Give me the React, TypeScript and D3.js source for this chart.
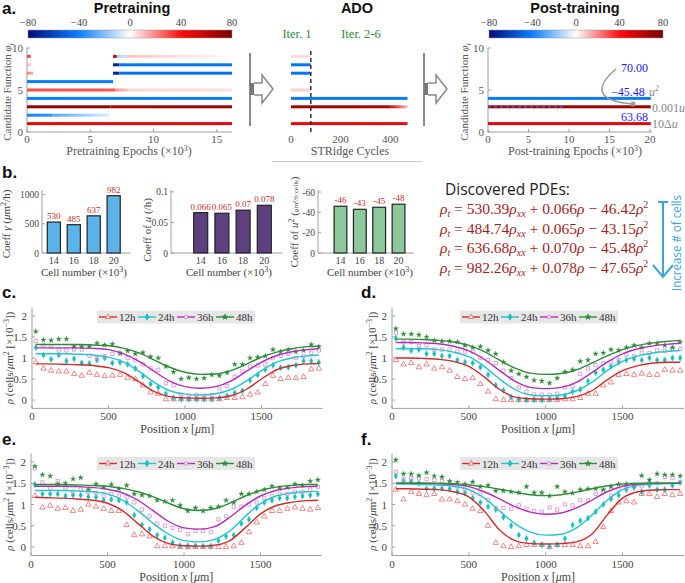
import React from "react";
import * as d3 from "d3";

const W = 685;
const H = 583;
const SERIF = "'Liberation Serif', 'DejaVu Serif', serif";
const SANS = "'Open Sans', 'Liberation Sans', sans-serif";
const ARIAL = "'Liberation Sans', Arial, sans-serif";

// ---------- panel a data ----------
const cbTicks = [-80, -40, 0, 40, 80];
const cbStops = [-80, -40, 0, 40, 80];
const cbColors = ["#000a7a", "#0a80ff", "#ffffff", "#ff0d0d", "#7a0000"];

// [row, x0, x1, valueStart, valueEnd]
const preSegments = [
  [1, 0, 16.2, 48, 50],
  [2, 0, 2, -38, -34], [2, 2, 6.5, -28, -6],
  [3, 0, 6.6, 72, 72], [3, 6.6, 16.2, 66, 70],
  [4, 0, 16.2, -40, -42],
  [5, 0, 7, 30, 28], [5, 7, 8, 18, 10], [5, 8, 16.2, 7, 5],
  [6, 0, 6.8, -40, -40],
  [7, 0, 0.5, 22, 12], [7, 6.8, 7.3, -72, -72], [7, 7.3, 16.2, -44, -44],
  [8, 0, 0.3, 14, 10], [8, 6.8, 7.3, -72, -72], [8, 7.3, 16.2, -44, -44],
  [9, 0, 0.3, 30, 30], [9, 6.8, 7.1, 60, 55], [9, 7.1, 7.8, -15, -8], [9, 7.8, 15, 10, 2],
];
const adoSegments = [
  [9, 0, 80, 6, 6],
  [8, 0, 80, -44, -44],
  [7, 0, 80, -44, -44],
  [5, 0, 80, 8, 8],
  [4, 0, 470, -42, -42],
  [3, 0, 400, 70, 66], [3, 400, 470, 55, 12],
  [1, 0, 470, 48, 46],
];
const adoDash = 80;
const postSegments = [
  [4, 0, 20.1, -42, -42],
  [3, 0, 20.1, 70, 70],
  [1, 0, 20.1, 50, 50],
];
const postDashed = [3, 0, 9.6];
const preXTicks = [0, 5, 10, 15];
const adoXTicks = [0, 200, 400];
const postXTicks = [0, 5, 10, 15, 20];
const rowTicks = [0, 5, 10];

// ---------- panel b data ----------
const cellNumbers = ["14", "16", "18", "20"];
const gammaCoeffs = [530, 485, 637, 982];
const gammaLabels = ["530", "485", "637", "982"];
const uCoeffs = [0.066, 0.065, 0.07, 0.078];
const uLabels = ["0.066", "0.065", "0.07", "0.078"];
const u2Coeffs = [-46, -43, -45, -48];
const u2Labels = ["-46", "-43", "-45", "-48"];
const gammaTicks = [0, 500, 1000];
const uTicks = [0, 0.05, 0.1];
const u2Ticks = [0, -20, -40, -60];

const pdeGamma = ["530.39", "484.74", "636.68", "982.26"];
const pdeU = ["0.066", "0.065", "0.070", "0.078"];
const pdeU2 = ["46.42", "43.15", "45.48", "47.65"];

// ---------- panels c-f data ----------
const positions = [25, 75, 125, 175, 225, 275, 325, 375, 425, 475, 525, 575, 625, 675, 725, 775, 825, 875, 925, 975, 1025, 1075, 1125, 1175, 1225, 1275, 1325, 1375, 1425, 1475, 1525, 1575, 1625, 1675, 1725, 1775, 1825, 1875];
const curveX = [25, 100, 200, 300, 400, 500, 600, 700, 800, 900, 1000, 1100, 1200, 1300, 1400, 1500, 1600, 1700, 1800, 1875];
const posTicks = [0, 500, 1000, 1500];
const rhoTicks = [0, 0.5, 1, 1.5, 2];
const hours = ["12h", "24h", "36h", "48h"];

const c12 = [0.9, 0.75, 0.7, 0.68, 0.68, 0.62, 0.58, 0.65, 0.6, 0.57, 0.58, 0.6, 0.53, 0.5, 0.35, 0.18, 0.15, 0.02, 0.02, 0.02, 0.02, 0.02, 0.02, 0.02, 0.02, 0.05, 0.05, 0.07, 0.13, 0.18, 0.38, 0.58, 0.5, 0.53, 0.52, 0.55, 0.73, 0.75];
const c24 = [1.25, 1.07, 0.97, 1.07, 0.93, 0.98, 0.88, 0.87, 0.95, 1.0, 0.88, 0.9, 0.85, 0.75, 0.57, 0.38, 0.3, 0.15, 0.05, 0.02, 0.02, 0.02, 0.02, 0.02, 0.05, 0.1, 0.17, 0.22, 0.47, 0.6, 0.72, 0.83, 0.77, 0.78, 0.83, 0.93, 0.93, 0.9];
const c36 = [1.4, 1.3, 1.27, 1.18, 1.18, 1.2, 1.2, 1.05, 1.0, 1.05, 1.1, 1.1, 1.0, 0.95, 0.85, 0.75, 0.72, 0.4, 0.35, 0.13, 0.1, 0.12, 0.1, 0.12, 0.27, 0.33, 0.55, 0.68, 0.8, 0.82, 0.85, 1.0, 1.05, 1.1, 1.0, 1.05, 1.12, 1.18];
const c48 = [1.63, 1.43, 1.42, 1.45, 1.45, 1.27, 1.27, 1.27, 1.35, 1.31, 1.33, 1.12, 1.17, 1.1, 1.13, 1.03, 1.0, 0.8, 0.67, 0.5, 0.53, 0.5, 0.52, 0.6, 0.58, 0.65, 0.85, 0.85, 1.0, 1.02, 1.05, 1.2, 1.15, 1.2, 1.15, 1.18, 1.32, 1.27];
const cFit12 = [0.86, 0.86, 0.85, 0.84, 0.82, 0.77, 0.65, 0.43, 0.2, 0.08, 0.05, 0.04, 0.05, 0.1, 0.25, 0.5, 0.72, 0.82, 0.86, 0.87];
const cFit24 = [1.1, 1.1, 1.1, 1.09, 1.07, 1.02, 0.9, 0.68, 0.42, 0.22, 0.14, 0.12, 0.15, 0.25, 0.45, 0.7, 0.9, 1.0, 1.05, 1.07];
const cFit36 = [1.24, 1.24, 1.24, 1.24, 1.23, 1.2, 1.1, 0.92, 0.68, 0.45, 0.32, 0.28, 0.32, 0.45, 0.68, 0.9, 1.06, 1.15, 1.2, 1.22];
const cFit48 = [1.32, 1.32, 1.32, 1.32, 1.31, 1.29, 1.23, 1.12, 0.95, 0.78, 0.66, 0.61, 0.62, 0.7, 0.85, 1.02, 1.14, 1.22, 1.27, 1.28];

const d12 = [0.95, 0.85, 0.88, 0.78, 0.85, 0.75, 0.78, 0.7, 0.55, 0.5, 0.52, 0.38, 0.2, 0.02, 0.0, 0.0, 0.0, 0.0, 0.0, 0.0, 0.0, 0.0, 0.02, 0.02, 0.05, 0.15, 0.15, 0.35, 0.42, 0.6, 0.62, 0.6, 0.63, 0.6, 0.6, 0.72, 0.7, 0.7];
const d24 = [1.47, 1.25, 1.18, 1.2, 1.1, 1.1, 1.05, 1.05, 0.95, 0.9, 0.88, 0.78, 0.6, 0.35, 0.23, 0.07, 0.02, 0.0, 0.0, 0.0, 0.02, 0.05, 0.1, 0.2, 0.25, 0.45, 0.65, 0.72, 0.8, 0.9, 0.95, 0.98, 0.95, 1.0, 0.95, 0.95, 1.0, 1.0];
const d36 = [1.6, 1.37, 1.38, 1.28, 1.3, 1.2, 1.2, 1.2, 1.15, 1.15, 1.15, 1.0, 0.95, 0.88, 0.7, 0.52, 0.3, 0.2, 0.13, 0.13, 0.12, 0.15, 0.3, 0.33, 0.62, 0.75, 0.83, 0.88, 0.9, 0.95, 1.08, 1.05, 1.12, 1.12, 1.18, 1.17, 1.22, 1.22];
const d48 = [1.7, 1.57, 1.57, 1.55, 1.5, 1.42, 1.4, 1.4, 1.38, 1.3, 1.25, 1.27, 1.18, 1.1, 0.9, 0.7, 0.62, 0.55, 0.47, 0.45, 0.4, 0.52, 0.67, 0.72, 0.92, 0.95, 1.1, 1.12, 1.2, 1.18, 1.25, 1.3, 1.25, 1.35, 1.35, 1.3, 1.25, 1.38];
const dFit12 = [1.0, 1.0, 0.99, 0.97, 0.92, 0.8, 0.55, 0.25, 0.07, 0.03, 0.02, 0.03, 0.08, 0.22, 0.48, 0.7, 0.82, 0.88, 0.9, 0.9];
const dFit24 = [1.22, 1.22, 1.22, 1.2, 1.14, 1.03, 0.8, 0.5, 0.25, 0.12, 0.1, 0.12, 0.22, 0.42, 0.7, 0.92, 1.05, 1.12, 1.16, 1.18];
const dFit36 = [1.37, 1.37, 1.36, 1.34, 1.28, 1.17, 0.97, 0.7, 0.45, 0.3, 0.27, 0.3, 0.42, 0.65, 0.9, 1.1, 1.22, 1.29, 1.33, 1.35];
const dFit48 = [1.45, 1.45, 1.44, 1.42, 1.38, 1.3, 1.15, 0.95, 0.76, 0.64, 0.61, 0.63, 0.72, 0.88, 1.05, 1.2, 1.3, 1.36, 1.4, 1.42];

const e12 = [1.2, 0.93, 0.97, 0.9, 0.92, 0.85, 0.88, 1.0, 0.95, 0.9, 0.85, 0.85, 0.52, 0.28, 0.3, 0.25, 0.02, 0.02, 0.02, 0.0, 0.0, 0.0, 0.0, 0.0, 0.0, 0.0, 0.02, 0.1, 0.35, 0.58, 0.72, 0.85, 0.85, 0.9, 0.93, 0.9, 0.88, 0.92];
const e24 = [1.47, 1.25, 1.25, 1.25, 1.2, 1.22, 1.22, 1.18, 1.17, 1.1, 1.12, 1.1, 1.05, 0.75, 0.52, 0.42, 0.28, 0.22, 0.1, 0.03, 0.03, 0.03, 0.02, 0.02, 0.15, 0.25, 0.28, 0.55, 0.65, 0.92, 1.05, 1.1, 1.15, 1.15, 1.18, 1.2, 1.22, 1.25];
const e36 = [1.85, 1.52, 1.38, 1.55, 1.4, 1.3, 1.35, 1.3, 1.27, 1.2, 1.25, 1.2, 1.17, 1.05, 0.88, 0.72, 0.55, 0.5, 0.45, 0.4, 0.3, 0.38, 0.38, 0.35, 0.65, 0.72, 0.95, 0.95, 1.0, 1.05, 1.15, 1.2, 1.25, 1.25, 1.3, 1.3, 1.35, 1.42];
const e48 = [1.9, 1.7, 1.67, 1.48, 1.5, 1.6, 1.63, 1.35, 1.48, 1.4, 1.47, 1.37, 1.45, 1.25, 1.22, 1.2, 1.1, 1.07, 1.1, 0.98, 0.85, 0.92, 0.85, 0.92, 0.95, 1.1, 1.05, 1.25, 1.25, 1.3, 1.35, 1.43, 1.38, 1.4, 1.48, 1.45, 1.55, 1.58];
const eFit12 = [1.17, 1.16, 1.15, 1.13, 1.1, 1.03, 0.85, 0.55, 0.25, 0.08, 0.03, 0.02, 0.04, 0.15, 0.45, 0.78, 0.97, 1.05, 1.09, 1.1];
const eFit24 = [1.33, 1.33, 1.33, 1.32, 1.3, 1.25, 1.1, 0.85, 0.55, 0.3, 0.15, 0.12, 0.18, 0.38, 0.72, 1.02, 1.2, 1.27, 1.3, 1.31];
const eFit36 = [1.43, 1.43, 1.43, 1.42, 1.4, 1.36, 1.27, 1.1, 0.85, 0.6, 0.45, 0.42, 0.48, 0.7, 0.98, 1.2, 1.33, 1.39, 1.42, 1.43];
const eFit48 = [1.47, 1.47, 1.47, 1.46, 1.45, 1.43, 1.38, 1.3, 1.18, 1.03, 0.9, 0.86, 0.9, 1.03, 1.2, 1.33, 1.41, 1.45, 1.47, 1.47];

const f12 = [1.35, 1.12, 1.3, 1.25, 1.22, 1.25, 1.12, 1.12, 1.08, 1.0, 0.9, 0.85, 0.5, 0.1, 0.02, 0.0, 0.02, 0.05, 0.05, 0.05, 0.0, 0.05, 0.05, 0.05, 0.02, 0.02, 0.12, 0.47, 0.85, 1.05, 1.08, 1.05, 1.25, 1.25, 1.18, 1.25, 1.22, 1.25];
const f24 = [1.67, 1.55, 1.55, 1.5, 1.37, 1.38, 1.38, 1.37, 1.3, 1.27, 1.15, 1.05, 0.95, 0.88, 0.7, 0.5, 0.28, 0.2, 0.1, 0.05, 0.02, 0.05, 0.2, 0.52, 0.62, 0.68, 0.83, 1.0, 1.13, 1.22, 1.35, 1.4, 1.3, 1.45, 1.35, 1.35, 1.45, 1.52];
const f36 = [1.77, 1.6, 1.62, 1.62, 1.6, 1.58, 1.55, 1.5, 1.42, 1.35, 1.28, 1.25, 1.1, 0.92, 0.92, 0.9, 0.98, 0.9, 0.85, 0.83, 0.93, 0.88, 1.0, 0.98, 1.1, 1.1, 1.25, 1.3, 1.2, 1.35, 1.38, 1.45, 1.43, 1.5, 1.5, 1.65, 1.62, 1.52];
const f48 = [2.05, 1.72, 1.72, 1.68, 1.75, 1.67, 1.65, 1.55, 1.52, 1.48, 1.53, 1.42, 1.45, 1.32, 1.32, 1.3, 1.28, 1.42, 1.28, 1.28, 1.2, 1.42, 1.3, 1.27, 1.35, 1.37, 1.37, 1.35, 1.42, 1.48, 1.48, 1.45, 1.68, 1.58, 1.72, 1.7, 1.7, 1.67];
const fFit12 = [1.37, 1.37, 1.36, 1.35, 1.3, 1.18, 0.85, 0.4, 0.15, 0.08, 0.07, 0.08, 0.12, 0.3, 0.75, 1.15, 1.3, 1.34, 1.35, 1.35];
const fFit24 = [1.48, 1.48, 1.47, 1.46, 1.43, 1.35, 1.15, 0.85, 0.55, 0.35, 0.28, 0.3, 0.45, 0.75, 1.1, 1.35, 1.45, 1.48, 1.49, 1.5];
const fFit36 = [1.5, 1.5, 1.5, 1.49, 1.47, 1.42, 1.3, 1.13, 0.95, 0.82, 0.77, 0.8, 0.92, 1.1, 1.3, 1.43, 1.48, 1.5, 1.5, 1.5];
const fFit48 = [1.5, 1.5, 1.5, 1.5, 1.49, 1.46, 1.42, 1.36, 1.29, 1.23, 1.21, 1.23, 1.29, 1.37, 1.44, 1.48, 1.5, 1.5, 1.5, 1.5];

const seriesStyle = [
  { line: "#d42a2a", mark: "#e66a6a", sym: d3.symbolTriangle, size: 13, filled: false },
  { line: "#28c4c8", mark: "#18bfc4", sym: d3.symbolDiamond, size: 12, filled: true },
  { line: "#b32fb5", mark: "#d88ad8", sym: d3.symbolSquare, size: 11, filled: false },
  { line: "#2e8b3a", mark: "#2e8b3a", sym: d3.symbolStar, size: 9, filled: true },
];

const colorMap = d3.scaleLinear<string>().domain(cbStops).range(cbColors);
const fmtMinus = (v: number) => (v < 0 ? "\u2212" + Math.abs(v) : String(v));

function Colorbar({ x0, x1, y, id }: any) {
  const s = d3.scaleLinear().domain([-80, 80]).range([x0, x1]);
  return (
    <g>
      <defs>
        <linearGradient id={id} x1="0" x2="1" y1="0" y2="0">
          {cbStops.map((v, i) => (
            <stop key={i} offset={(v + 80) / 160} stopColor={cbColors[i]} />
          ))}
        </linearGradient>
      </defs>
      <rect x={x0} y={y} width={x1 - x0} height={8} fill={`url(#${id})`} stroke="#999" strokeWidth={0.5} />
      {cbTicks.map((t) => (
        <text key={t} x={s(t)} y={y - 4} textAnchor="middle" fontSize={10.5} fontFamily={SERIF} fill="#444">
          {fmtMinus(t)}
        </text>
      ))}
    </g>
  );
}

function SegRects({ segs, xs, ys, pid }: any) {
  return (
    <g>
      <defs>
        {segs.map((s: number[], i: number) => (
          <linearGradient key={i} id={`${pid}${i}`} gradientUnits="userSpaceOnUse" x1={xs(s[1])} x2={xs(s[2])} y1={0} y2={0}>
            <stop offset="0" stopColor={colorMap(s[3])} />
            <stop offset="1" stopColor={colorMap(s[4])} />
          </linearGradient>
        ))}
      </defs>
      {segs.map((s: number[], i: number) => (
        <rect key={i} x={xs(s[1])} y={ys(s[0]) - 1.5} width={xs(s[2]) - xs(s[1])} height={3} fill={`url(#${pid}${i})`} />
      ))}
    </g>
  );
}

function HeatAxes({ xs, ys, xTicks, axes, xEnd }: any) {
  const xa = xs.range()[0];
  return (
    <g>
      {axes && (
        <g stroke="#a0a0a0" strokeWidth={1}>
          <line x1={xa} x2={xa} y1={ys(10)} y2={ys(0)} />
          <line x1={xa} x2={xEnd} y1={ys(0)} y2={ys(0)} />
          {rowTicks.map((t) => (
            <line key={t} x1={xa} x2={xa + 3} y1={ys(t)} y2={ys(t)} />
          ))}
          {xTicks.map((t: number) => (
            <line key={t} x1={xs(t)} x2={xs(t)} y1={ys(0)} y2={ys(0) - 3} />
          ))}
        </g>
      )}
      {axes &&
        rowTicks.map((t) => (
          <text key={t} x={xa - 4} y={ys(t) + 4} textAnchor="end" fontSize={11} fontFamily={SERIF} fill="#555">
            {t}
          </text>
        ))}
      {xTicks.map((t: number) => (
        <text key={t} x={xs(t)} y={ys(0) + 11} textAnchor="middle" fontSize={11} fontFamily={SERIF} fill="#555">
          {t}
        </text>
      ))}
    </g>
  );
}

function CandLabel({ x, y }: any) {
  return (
    <text transform={`translate(${x},${y}) rotate(-90)`} textAnchor="middle" fontSize={11} fontFamily={SERIF} fill="#555">
      Candidate Function <tspan fontStyle="italic">φ</tspan>
      <tspan fontSize={8} dy={3} fontStyle="italic">i</tspan>
    </text>
  );
}

function BigArrow({ x0 }: any) {
  const yc = 89;
  const p = `M${x0 + 4},${yc - 6} L${x0 + 12},${yc - 6} L${x0 + 12},${yc - 14} L${x0 + 23},${yc} L${x0 + 12},${yc + 14} L${x0 + 12},${yc + 6} L${x0 + 4},${yc + 6}`;
  return (
    <g>
      <line x1={x0} x2={x0} y1={53} y2={126} stroke="#8a8a8a" strokeWidth={2} />
      <rect x={x0} y={yc - 6} width={4} height={12} fill="#777" />
      <path d={p} fill="#fff" stroke="#8a8a8a" strokeWidth={1.5} strokeLinejoin="miter" />
    </g>
  );
}

function BarChart({ axisX, bandRange, yDomain, values, labels, fill, ticks, tickFmt, xEnd }: any) {
  const x = d3.scaleBand().domain(cellNumbers).range(bandRange).padding(0.34);
  const y = d3.scaleLinear().domain(yDomain).range([253, 190]);
  return (
    <g>
      <g stroke="#a0a0a0">
        <line x1={axisX} x2={axisX} y1={190} y2={253} />
        <line x1={axisX} x2={xEnd} y1={253} y2={253} />
        {ticks.map((t: number) => (
          <line key={t} x1={axisX} x2={axisX + 3} y1={y(t)} y2={y(t)} />
        ))}
      </g>
      {ticks.map((t: number) => (
        <text key={t} x={axisX - 3} y={y(t) + 3.5} textAnchor="end" fontSize={9.5} fontFamily={SERIF} fill="#444">
          {tickFmt(t)}
        </text>
      ))}
      {values.map((v: number, i: number) => {
        const top = Math.min(y(0), y(v));
        const h = Math.abs(y(0) - y(v));
        const cx = (x(cellNumbers[i]) as number) + x.bandwidth() / 2;
        return (
          <g key={i}>
            <rect x={x(cellNumbers[i])} y={top} width={x.bandwidth()} height={h} fill={fill} stroke="#222" strokeWidth={1.2} />
            <text x={cx} y={top - 3} textAnchor="middle" fontSize={9} fontFamily={SERIF} fill="#c0302e">
              {labels[i]}
            </text>
            <text x={cx} y={264} textAnchor="middle" fontSize={10} fontFamily={SERIF} fill="#444">
              {cellNumbers[i]}
            </text>
          </g>
        );
      })}
    </g>
  );
}

function CellLabel({ x }: any) {
  return (
    <text x={x} y={276} textAnchor="middle" fontSize={11} fontFamily={SERIF} fill="#444">
      Cell number (×10<tspan fontSize={8} dy={-4}>3</tspan>
      <tspan dy={4}>)</tspan>
    </text>
  );
}

function LinePanel({ x0, x1, yb, yt, pts, fits, legX, legY, letter, letterX, letterY, ylabX }: any) {
  const xs = d3.scaleLinear().domain([0, 1900]).range([x0, x1]);
  const ys = d3.scaleLinear().domain([-0.2, 2.2]).range([yb, yt]);
  const line = d3
    .line<number>()
    .x((_, i) => xs(curveX[i]))
    .y((d) => ys(d))
    .curve(d3.curveMonotoneX);
  const ymid = (yb + yt) / 2;
  return (
    <g>
      <text x={letterX} y={letterY} fontSize={17} fontWeight="bold" fontFamily={ARIAL} fill="#111">
        {letter}
      </text>
      <g stroke="#a0a0a0">
        <line x1={x0} x2={x0} y1={yt} y2={yb} />
        <line x1={x0} x2={x1} y1={yb} y2={yb} />
        {rhoTicks.map((t) => (
          <line key={t} x1={x0} x2={x0 + 3} y1={ys(t)} y2={ys(t)} />
        ))}
        {posTicks.map((t) => (
          <line key={t} x1={xs(t)} x2={xs(t)} y1={yb} y2={yb - 3} />
        ))}
      </g>
      {rhoTicks.map((t) => (
        <text key={t} x={x0 - 5} y={ys(t) + 4} textAnchor="end" fontSize={11} fontFamily={SERIF} fill="#444">
          {t}
        </text>
      ))}
      {posTicks.map((t) => (
        <text key={t} x={xs(t)} y={yb + 12} textAnchor="middle" fontSize={11} fontFamily={SERIF} fill="#444">
          {t}
        </text>
      ))}
      <text x={(x0 + x1) / 2} y={yb + 25} textAnchor="middle" fontSize={12} fontFamily={SERIF} fill="#444">
        Position <tspan fontStyle="italic">x</tspan> [<tspan fontStyle="italic">μ</tspan>m]
      </text>
      <text transform={`translate(${ylabX},${ymid}) rotate(-90)`} textAnchor="middle" fontSize={11} fontFamily={SERIF} fill="#444">
        <tspan fontStyle="italic">ρ</tspan> (cells/<tspan fontStyle="italic">μ</tspan>m<tspan fontSize={8} dy={-4}>2</tspan>
        <tspan dy={4}> [×10</tspan>
        <tspan fontSize={8} dy={-4}>−3</tspan>
        <tspan dy={4}>])</tspan>
      </text>
      {pts.map((arr: number[], si: number) => {
        const st = seriesStyle[si];
        const sym = d3.symbol().type(st.sym).size(st.size)() as string;
        return (
          <g key={si}>
            {arr.map((v, i) => (
              <path
                key={i}
                d={sym}
                transform={`translate(${xs(positions[i])},${ys(v)})`}
                fill={st.filled ? st.mark : "none"}
                stroke={st.mark}
                strokeWidth={st.filled ? 0.3 : 0.8}
              />
            ))}
          </g>
        );
      })}
      {fits.map((arr: number[], si: number) => (
        <path key={si} d={line(arr) as string} fill="none" stroke={seriesStyle[si].line} strokeWidth={1.4} />
      ))}
      <rect x={legX} y={legY} width={158} height={13} fill="#e6e6e6" />
      {hours.map((h, i) => {
        const st = seriesStyle[i];
        const lx = legX + 2 + i * 39;
        const cy = legY + 6.5;
        const sym = d3.symbol().type(st.sym).size(st.size)() as string;
        return (
          <g key={h}>
            <line x1={lx} x2={lx + 18} y1={cy} y2={cy} stroke={st.line} strokeWidth={1.4} />
            <path d={sym} transform={`translate(${lx + 9},${cy})`} fill={st.filled ? st.mark : "#e6e6e6"} stroke={st.mark} strokeWidth={0.8} />
            <text x={lx + 20} y={cy + 4} fontSize={11} fontFamily={SERIF} fill="#333">
              {h}
            </text>
          </g>
        );
      })}
    </g>
  );
}

export default function App() {
  const rows = d3.scaleLinear().domain([0, 10]).range([132, 48]);
  const xPre = d3.scaleLinear().domain([0, 16.2]).range([27, 232]);
  const xAdo = d3.scaleLinear().domain([0, 470]).range([291, 407.5]);
  const xPost = d3.scaleLinear().domain([0, 20]).range([488, 650]);

  const panels = [
    { pts: [c12, c24, c36, c48], fits: [cFit12, cFit24, cFit36, cFit48], x0: 32, x1: 322.7, yb: 408.4, yt: 307.6, legX: 97, legY: 310.5, letter: "c.", lx: 2, ly: 298, ylabX: 13 },
    { pts: [d12, d24, d36, d48], fits: [dFit12, dFit24, dFit36, dFit48], x0: 392, x1: 684, yb: 408.4, yt: 307.6, legX: 460, legY: 310.5, letter: "d.", lx: 361, ly: 298, ylabX: 376 },
    { pts: [e12, e24, e36, e48], fits: [eFit12, eFit24, eFit36, eFit48], x0: 31, x1: 321.7, yb: 555.5, yt: 453.5, legX: 97, legY: 457, letter: "e.", lx: 2, ly: 445, ylabX: 13 },
    { pts: [f12, f24, f36, f48], fits: [fFit12, fFit24, fFit36, fFit48], x0: 392, x1: 684, yb: 555.5, yt: 453.5, legX: 460, legY: 457, letter: "f.", lx: 361, ly: 445, ylabX: 376 },
  ];

  return (
    <svg width={W} height={H} style={{ position: "absolute", left: 0, top: 0, background: "#fff" }}>
      <rect width={W} height={H} fill="#fff" />
      {/* ----- panel a ----- */}
      <text x={2} y={14} fontSize={17} fontWeight="bold" fontFamily={ARIAL} fill="#111">a.</text>
      <text x={132} y={13} textAnchor="middle" fontSize={14.5} fontWeight="bold" fontFamily={ARIAL} fill="#111">Pretraining</text>
      <text x={357} y={13} textAnchor="middle" fontSize={14.5} fontWeight="bold" fontFamily={ARIAL} fill="#111">ADO</text>
      <text x={575} y={13} textAnchor="middle" fontSize={14.5} fontWeight="bold" fontFamily={ARIAL} fill="#111">Post-training</text>

      <Colorbar x0={28} x1={232} y={30} id="cb1" />
      <Colorbar x0={489} x1={663} y={30} id="cb2" />

      <HeatAxes xs={xPre} ys={rows} xTicks={preXTicks} axes xEnd={232} />
      <SegRects segs={preSegments} xs={xPre} ys={rows} pid="pre" />
      <CandLabel x={11} y={92} />
      <text x={129} y={155} textAnchor="middle" fontSize={12} fontFamily={SERIF} fill="#555">
        Pretraining Epochs (×10<tspan fontSize={8} dy={-4}>3</tspan>
        <tspan dy={4}>)</tspan>
      </text>

      <text x={297} y={38} textAnchor="middle" fontSize={12.5} fontFamily={SERIF} fill="#2e8b3a">Iter. 1</text>
      <text x={361} y={38} textAnchor="middle" fontSize={12.5} fontFamily={SERIF} fill="#2e8b3a">Iter. 2-6</text>
      <SegRects segs={adoSegments} xs={xAdo} ys={rows} pid="ado" />
      <line x1={xAdo(adoDash)} x2={xAdo(adoDash)} y1={51} y2={133} stroke="#222" strokeWidth={1.4} strokeDasharray="4 3" />
      <HeatAxes xs={xAdo} ys={rows} xTicks={adoXTicks} axes={false} />
      <text x={350} y={155} textAnchor="middle" fontSize={12} fontFamily={SERIF} fill="#555">STRidge Cycles</text>
      <line x1={272} x2={422} y1={161.5} y2={161.5} stroke="#c8c8c8" strokeWidth={1} />

      <BigArrow x0={250} />
      <BigArrow x0={424} />

      <HeatAxes xs={xPost} ys={rows} xTicks={postXTicks} axes xEnd={652} />
      <SegRects segs={postSegments} xs={xPost} ys={rows} pid="post" />
      <line x1={xPost(postDashed[1])} x2={xPost(postDashed[2])} y1={rows(postDashed[0])} y2={rows(postDashed[0])} stroke="#5a5ad8" strokeWidth={2} strokeDasharray="3 3" opacity={0.75} />
      <CandLabel x={468} y={92} />
      <text x={575} y={155} textAnchor="middle" fontSize={12} fontFamily={SERIF} fill="#555">
        Post-training Epochs (×10<tspan fontSize={8} dy={-4}>3</tspan>
        <tspan dy={4}>)</tspan>
      </text>
      <path d="M616,69 C596,86 594,101 633,104" fill="none" stroke="#9a9a9a" strokeWidth={1.5} />
      <circle cx={633} cy={104} r={2.5} fill="#9a9a9a" />
      <text x={621} y={72} fontSize={12} fontFamily={SERIF} fill="#1a1aff">70.00</text>
      <text x={611} y={96} fontSize={12} fontFamily={SERIF} fill="#1a1aff">−45.48</text>
      <text x={649} y={96} fontSize={12} fontFamily={SERIF} fill="#888">
        <tspan fontStyle="italic">u</tspan>
        <tspan fontSize={8} dy={-5}>2</tspan>
      </text>
      <text x={652} y={112} fontSize={12} fontFamily={SERIF} fill="#888">
        0.001<tspan fontStyle="italic">u</tspan>
      </text>
      <text x={621} y={121} fontSize={12} fontFamily={SERIF} fill="#1a1aff">63.68</text>
      <text x={652} y={128} fontSize={12} fontFamily={SERIF} fill="#888">
        10Δ<tspan fontStyle="italic">u</tspan>
      </text>

      {/* ----- panel b ----- */}
      <text x={2} y={178} fontSize={17} fontWeight="bold" fontFamily={ARIAL} fill="#111">b.</text>
      <BarChart axisX={42} bandRange={[40.5, 127]} yDomain={[0, 1080]} values={gammaCoeffs} labels={gammaLabels} fill="#5ab4ea" ticks={gammaTicks} tickFmt={(t: number) => String(t)} xEnd={130} />
      <text transform="translate(10,224) rotate(-90)" textAnchor="middle" fontSize={11} fontFamily={SERIF} fill="#444">
        Coeff <tspan fontStyle="italic">γ</tspan> (<tspan fontStyle="italic">μ</tspan>m<tspan fontSize={8} dy={-4}>2</tspan>
        <tspan dy={4}>/h)</tspan>
      </text>
      <CellLabel x={84} />

      <BarChart axisX={171} bandRange={[186.5, 278.5]} yDomain={[0, 0.103]} values={uCoeffs} labels={uLabels} fill="#5e3f80" ticks={uTicks} tickFmt={(t: number) => String(t)} xEnd={282} />
      <text transform="translate(151,230) rotate(-90)" textAnchor="middle" fontSize={11} fontFamily={SERIF} fill="#444">
        Coeff of <tspan fontStyle="italic">u</tspan> (/h)
      </text>
      <CellLabel x={229} />

      <BarChart axisX={318} bandRange={[327.5, 411.5]} yDomain={[0, -62]} values={u2Coeffs} labels={u2Labels} fill="#8cc89b" ticks={u2Ticks} tickFmt={(t: number) => String(t)} xEnd={414} />
      <text transform="translate(298,222) rotate(-90)" textAnchor="middle" fontSize={11} fontFamily={SERIF} fill="#444">
        Coeff of <tspan fontStyle="italic">u</tspan>
        <tspan fontSize={8} dy={-4}>2</tspan>
        <tspan dy={4}> (</tspan>
        <tspan fontSize={7}>μm²/h·cells</tspan>
        <tspan>)</tspan>
      </text>
      <CellLabel x={370} />

      <text x={445} y={195} fontSize={15.5} fontFamily={SANS} fill="#222">Discovered PDEs:</text>
      {pdeGamma.map((g, i) => (
        <text key={i} x={440} y={214 + i * 19.5} fontSize={15.5} fontFamily={SERIF} fill="#a31f1f">
          <tspan fontStyle="italic">ρ</tspan>
          <tspan fontSize={10} dy={3} fontStyle="italic">t</tspan>
          <tspan dy={-3}> = {g}</tspan>
          <tspan fontStyle="italic">ρ</tspan>
          <tspan fontSize={10} dy={3} fontStyle="italic">xx</tspan>
          <tspan dy={-3}> + {pdeU[i]}</tspan>
          <tspan fontStyle="italic">ρ</tspan>
          <tspan> − {pdeU2[i]}</tspan>
          <tspan fontStyle="italic">ρ</tspan>
          <tspan fontSize={10} dy={-6}>2</tspan>
        </text>
      ))}
      <g stroke="#3ba5d9" strokeWidth={2} fill="none">
        <line x1={663} x2={663} y1={202} y2={276} />
        <line x1={658} x2={668} y1={202} y2={202} />
        <polyline points="653,265 663,277 673,265" />
      </g>
      <text transform="translate(680.5,243) rotate(-90)" textAnchor="middle" fontSize={13} fontFamily={SANS} fill="#3ba5d9" textLength={96} lengthAdjust="spacingAndGlyphs">
        Increase # of cells
      </text>

      {/* ----- panels c-f ----- */}
      {panels.map((p, i) => (
        <LinePanel key={i} x0={p.x0} x1={p.x1} yb={p.yb} yt={p.yt} pts={p.pts} fits={p.fits} legX={p.legX} legY={p.legY} letter={p.letter} letterX={p.lx} letterY={p.ly} ylabX={p.ylabX} />
      ))}
    </svg>
  );
}
